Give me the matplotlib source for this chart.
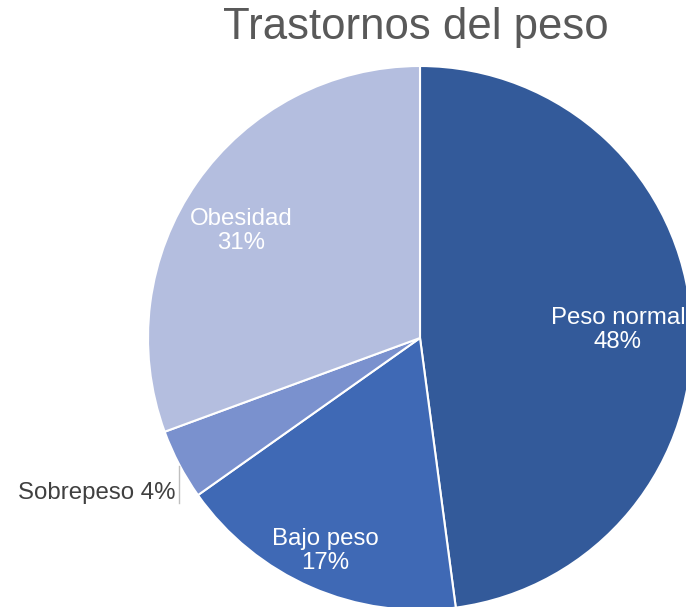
import matplotlib
matplotlib.use("Agg")
import matplotlib.pyplot as plt

categories = ["Peso normal", "Bajo peso", "Sobrepeso", "Obesidad"]
values = [47.9, 17.3, 4.2, 30.6]
colors = ["#335A9A", "#3F69B5", "#7A91CE", "#B4BEDF"]
title = "Trastornos del peso"

plt.rcParams['font.family'] = ['Liberation Sans', 'DejaVu Sans']

W, H = 686, 607
fig = plt.figure(figsize=(W / 100, H / 100), dpi=100)
cx, cy, r = 420, 338, 272
ax = fig.add_axes([(cx - r) / W, (H - cy - r) / H, 2 * r / W, 2 * r / H])

wedges, _ = ax.pie(values, colors=colors, startangle=90, counterclock=False,
                   radius=1, wedgeprops=dict(edgecolor='white', linewidth=1.5))
for w in wedges:
    w.set_clip_on(False)
ax.set_xlim(-1, 1)
ax.set_ylim(-1, 1)
ax.set_aspect('equal')
ax.axis('off')

def dx(px):
    return (px - cx) / r

def dy(py):
    return (cy - py) / r

total = sum(values)
pct = [f"{v / total * 100:.0f}%" for v in values]

lab_col = "white"
fs = 17.3
ls = 1.15
ax.text(dx(618), dy(330), f"{categories[0]}\n{pct[0]}", color=lab_col, fontsize=fs,
        ha='center', va='center', linespacing=ls, clip_on=False)
ax.text(dx(325), dy(551), f"{categories[1]}\n{pct[1]}", color=lab_col, fontsize=fs,
        ha='center', va='center', linespacing=ls, clip_on=False)
ax.text(dx(241), dy(231), f"{categories[3]}\n{pct[3]}", color=lab_col, fontsize=fs,
        ha='center', va='center', linespacing=ls, clip_on=False)
ax.text(dx(175), dy(493), f"{categories[2]} {pct[2]}", color="#404040", fontsize=fs,
        ha='right', va='center', clip_on=False)
ax.plot([dx(179), dx(179)], [dy(466), dy(503)], color="#BFBFBF", linewidth=1, clip_on=False)

fig.text(416 / W, 1 - 28 / H, title, fontsize=31.5, color="#595959", ha='center', va='center')

fig.savefig("out.png", dpi=100)
